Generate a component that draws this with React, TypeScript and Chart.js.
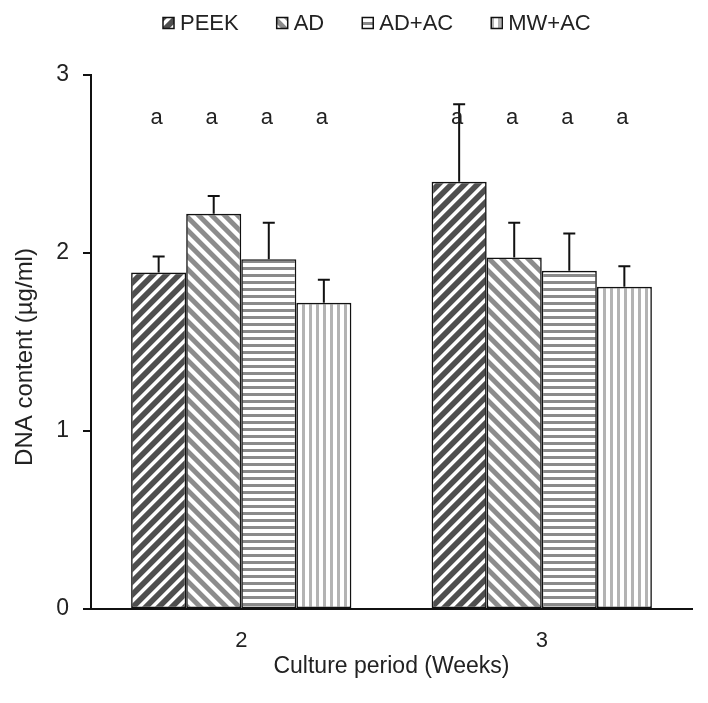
import { useEffect, useRef } from 'react';
import { Chart, registerables } from 'chart.js';

Chart.register(...registerables);

// ---- data ----
const weeks = ['2', '3'];
const seriesNames = ['PEEK', 'AD', 'AD+AC', 'MW+AC'];
const peekMeans = [1.89, 2.4];
const adMeans = [2.22, 1.975];
const adacMeans = [1.965, 1.9];
const mwacMeans = [1.72, 1.81];
const peekErr = [0.09, 0.435];
const adErr = [0.1, 0.195];
const adacErr = [0.205, 0.21];
const mwacErr = [0.13, 0.115];
const sigLetters = [
  ['a', 'a'],
  ['a', 'a'],
  ['a', 'a'],
  ['a', 'a'],
];
const letterLevel = 2.76;
const yMin = 0;
const yMax = 3;
const yStep = 1;
const xTitle = 'Culture period (Weeks)';
const yTitle = 'DNA content (\u00b5g/ml)';

const allMeans = [peekMeans, adMeans, adacMeans, mwacMeans];
const allErrs = [peekErr, adErr, adacErr, mwacErr];

const FONT = '"Liberation Sans", Arial, Helvetica, sans-serif';
const TEXT = '#222';
const LINE = '#111';

type Kind = 'slash' | 'back' | 'h' | 'v';

function hexToRgb(h: string) {
  const n = parseInt(h.slice(1), 16);
  return [(n >> 16) & 255, (n >> 8) & 255, n & 255];
}

function makePattern(kind: Kind, stripe: string, bg: string, period: number, width: number) {
  const c = document.createElement('canvas');
  c.width = period;
  c.height = period;
  const ctx = c.getContext('2d')!;
  const img = ctx.createImageData(period, period);
  const s = hexToRgb(stripe);
  const b = hexToRgb(bg);
  const S = 4;
  for (let y = 0; y < period; y++) {
    for (let x = 0; x < period; x++) {
      let cov = 0;
      for (let sy = 0; sy < S; sy++) {
        for (let sx = 0; sx < S; sx++) {
          const px = x + (sx + 0.5) / S;
          const py = y + (sy + 0.5) / S;
          let t = 0;
          if (kind === 'slash') t = px + py;
          else if (kind === 'back') t = px - py;
          else if (kind === 'h') t = py;
          else t = px;
          t = ((t % period) + period) % period;
          if (t < width) cov++;
        }
      }
      const f = cov / (S * S);
      const i = (y * period + x) * 4;
      img.data[i] = Math.round(b[0] + (s[0] - b[0]) * f);
      img.data[i + 1] = Math.round(b[1] + (s[1] - b[1]) * f);
      img.data[i + 2] = Math.round(b[2] + (s[2] - b[2]) * f);
      img.data[i + 3] = 255;
    }
  }
  ctx.putImageData(img, 0, 0);
  return ctx.createPattern(c, 'repeat')!;
}

export default function App() {
  const ref = useRef<HTMLCanvasElement | null>(null);

  useEffect(() => {
    const canvas = ref.current;
    if (!canvas) return;

    const patterns = [
      makePattern('slash', '#ffffff', '#4f4f4f', 13, 5),
      makePattern('back', '#ffffff', '#8c8c8c', 13, 6),
      makePattern('h', '#8a8a8a', '#ffffff', 7, 3),
      makePattern('v', '#b3b3b3', '#ffffff', 7, 3),
    ];

    const errorPlugin = {
      id: 'errorBarsAndLetters',
      afterDatasetsDraw(chart: any) {
        const ctx = chart.ctx;
        const y = chart.scales.y;
        ctx.save();
        allErrs.forEach((errs, di) => {
          const meta = chart.getDatasetMeta(di);
          meta.data.forEach((bar: any, i: number) => {
            const v = allMeans[di][i];
            const top = y.getPixelForValue(v + errs[i]);
            const base = y.getPixelForValue(v);
            ctx.strokeStyle = LINE;
            ctx.lineWidth = 2;
            ctx.beginPath();
            ctx.moveTo(bar.x, base);
            ctx.lineTo(bar.x, top);
            ctx.moveTo(bar.x - 6, top);
            ctx.lineTo(bar.x + 6, top);
            ctx.stroke();
            ctx.fillStyle = TEXT;
            ctx.font = `22px ${FONT}`;
            ctx.textAlign = 'center';
            ctx.textBaseline = 'middle';
            ctx.fillText(sigLetters[di][i], bar.x - 2, y.getPixelForValue(letterLevel));
          });
        });
        ctx.restore();
      },
    };

    const legendPlugin = {
      id: 'customLegendAndYTitle',
      afterDraw(chart: any) {
        const ctx = chart.ctx;
        ctx.save();
        ctx.font = `22px ${FONT}`;
        ctx.textBaseline = 'middle';
        ctx.textAlign = 'left';
        const box = 11;
        const gap = 6;
        const itemGap = 38;
        const cy = 15;
        let x = 155;
        seriesNames.forEach((name, i) => {
          ctx.fillStyle = patterns[i];
          ctx.fillRect(x, cy - box / 2, box, box);
          ctx.strokeStyle = LINE;
          ctx.lineWidth = 1.5;
          ctx.strokeRect(x, cy - box / 2, box, box);
          ctx.fillStyle = TEXT;
          ctx.fillText(name, x + box + gap, cy + 1);
          x += box + gap + ctx.measureText(name).width + itemGap;
        });
        // y axis title (slightly below the axis centre, as in the reference)
        const area = chart.chartArea;
        ctx.translate(17, (area.top + area.bottom) / 2 + 15);
        ctx.rotate(-Math.PI / 2);
        ctx.font = `24px ${FONT}`;
        ctx.textAlign = 'center';
        ctx.fillText(yTitle, 0, 0);
        ctx.restore();
      },
    };

    const chart = new Chart(canvas, {
      type: 'bar',
      data: {
        labels: weeks,
        datasets: seriesNames.map((name, i) => ({
          label: name,
          data: allMeans[i],
          backgroundColor: patterns[i],
          borderColor: LINE,
          borderWidth: 1.6,
          borderSkipped: false,
          categoryPercentage: 0.733,
          barPercentage: 1.0,
        })),
      },
      options: {
        animation: false,
        responsive: false,
        layout: { padding: { top: 67, right: 8, left: 0, bottom: 0 } },
        plugins: {
          legend: { display: false },
          tooltip: { enabled: false },
        },
        scales: {
          x: {
            grid: { display: false, drawTicks: false },
            border: { display: true, color: LINE, width: 2 },
            ticks: { color: TEXT, font: { family: FONT, size: 22 }, padding: 19 },
            title: {
              display: true,
              text: xTitle,
              color: TEXT,
              font: { family: FONT, size: 23 },
              padding: { top: 0, bottom: 15 },
            },
            afterFit: (s: any) => {
              s.height = 86;
            },
          },
          y: {
            min: yMin,
            max: yMax,
            grid: {
              display: true,
              drawOnChartArea: false,
              drawTicks: true,
              tickLength: 8,
              color: LINE,
              lineWidth: 2,
            },
            border: { display: true, color: LINE, width: 2 },
            ticks: {
              stepSize: yStep,
              color: TEXT,
              font: { family: FONT, size: 23 },
              padding: 14,
            },
            title: { display: false },
            afterFit: (s: any) => {
              s.width = 83;
            },
          },
        },
      },
      plugins: [errorPlugin, legendPlugin],
    } as any);

    return () => chart.destroy();
  }, []);

  return (
    <canvas ref={ref} width={692} height={687} style={{ display: 'block', width: 692, height: 687 }} />
  );
}
